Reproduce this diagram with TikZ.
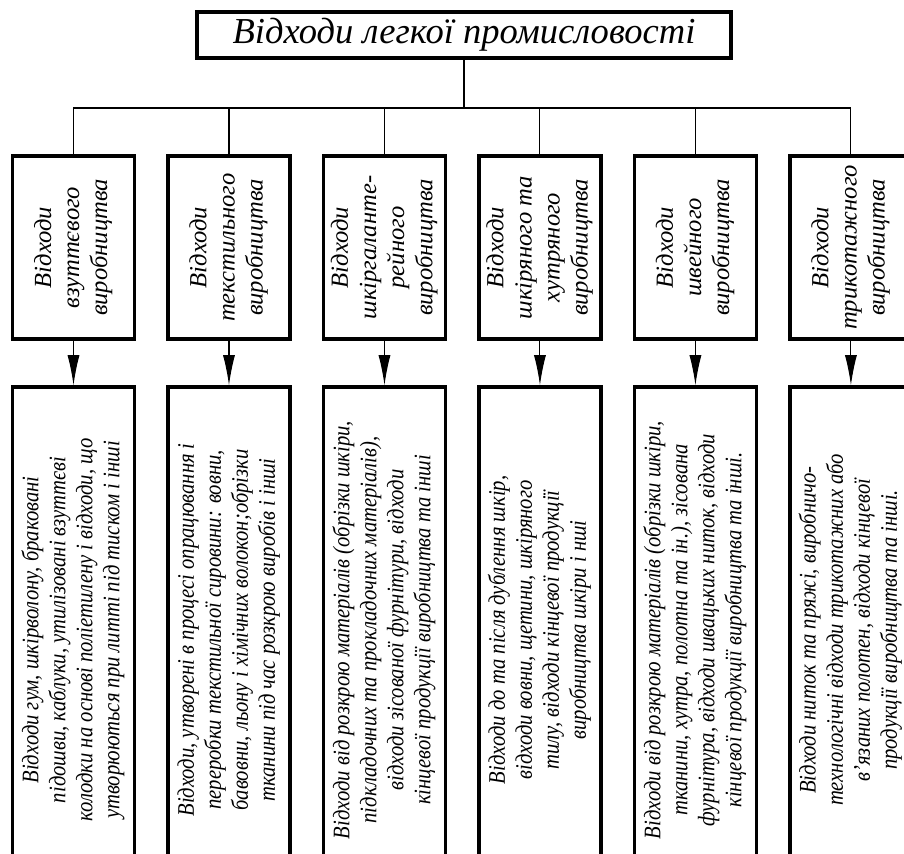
\documentclass[tikz,border=0pt]{standalone}
\usepackage{fontspec}
\setmainfont{Liberation Serif}
\newfontfamily\narrowserif[FakeStretch=0.87]{Liberation Serif}
\usepackage{graphicx}
\usepackage{tikz}
\usetikzlibrary{arrows.meta,positioning}

% text turned to read from bottom to top
\newcommand{\sidetext}[1]{\rotatebox{90}{\begin{tabular}{@{}c@{}}#1\end{tabular}}}

\begin{document}
\begin{tikzpicture}[
    x=0.02cm, y=-0.02cm,
    node distance=0.6cm,
    topbox/.style={rectangle, draw, line width=2pt, minimum width=10.68cm,
                   minimum height=0.92cm, inner sep=0pt,
                   font=\fontsize{20.8}{25}\selectfont\itshape},
    catbox/.style={rectangle, draw, line width=2pt, minimum width=2.44cm,
                   minimum height=3.66cm, inner sep=0pt,
                   font=\fontsize{14}{16}\selectfont\itshape},
    descbox/.style={rectangle, draw, line width=2pt, minimum width=2.44cm,
                    minimum height=9.72cm, inner sep=0pt,
                    font=\narrowserif\fontsize{13.5}{15.4}\selectfont\itshape},
    link/.style={line width=0.6pt},
    arrow/.style={-{Latex[length=0.6cm, width=0.24cm]}, line width=0.6pt}
]

\useasboundingbox (0,0) rectangle (904,854);
\clip (0,0) rectangle (904,854);

\node[topbox] (title) at (464,35) {Відходи легкої промисловості};

% kinds of production
\node[catbox] (shoe) at (73.5,247.5) {\sidetext{Відходи\\ взуттєвого\\ виробництва}};
\node[catbox, right=of shoe] (textile) {\sidetext{Відходи\\ текстильного\\ виробництва}};
\node[catbox, right=of textile] (haber) {\sidetext{Відходи\\ шкіргаланте-\\ рейного\\ виробництва}};
\node[catbox, right=of haber] (leather) {\sidetext{Відходи\\ шкіряного та\\ хутряного\\ виробництва}};
\node[catbox, right=of leather] (sewing) {\sidetext{Відходи\\ швейного\\ виробництва}};
\node[catbox, right=of sewing] (knit) {\sidetext{Відходи\\ трикотажного\\ виробництва}};

% what each one gives
\node[descbox, below=0.89cm of shoe] (shoeD) {\sidetext{Відходи гум, шкірволону, браковані\\ підошви, каблуки, утилізовані взуттєві\\ колодки на основі поліетилену і відходи, що\\ утворюються при литті під тиском і інші}};
\node[descbox, below=0.89cm of textile] (textileD) {\sidetext{Відходи, утворені в процесі опрацювання і\\ переробки текстильної сировини: вовни,\\ бавовни, льону і хімічних волокон;обрізки\\ тканини під час розкрою виробів і інші}};
\node[descbox, below=0.89cm of haber] (haberD) {\sidetext{Відходи від розкрою матеріалів (обрізки шкіри,\\ підкладочних та прокладочних матеріалів),\\ відходи зісованої фурнітури, відходи\\ кінцевої продукції виробництва та інші}};
\node[descbox, below=0.89cm of leather] (leatherD) {\sidetext{Відходи до та після дублення шкір,\\ відходи вовни, щетини, шкіряного\\ тилу, відходи кінцевої продукції\\ виробництва шкіри і нші}};
\node[descbox, below=0.89cm of sewing] (sewingD) {\sidetext{Відходи від розкрою матеріалів (обрізки шкіри,\\ тканини, хутра, полотна та ін.), зісована\\ фурнітура, відходи швацьких ниток, відходи\\ кінцевої продукції виробництва та інші.}};
\node[descbox, below=0.89cm of knit] (knitD) {\sidetext{Відходи ниток та пряжі, виробничо-\\ технологічні відходи трикотажних або\\ в’язаних полотен, відходи кінцевої\\ продукції виробництва та інші.}};

\coordinate (bus) at (464,108);

\draw[link] (title.south) -- (bus);
\draw[link] (shoe.north) -- (shoe.north |- bus) -- (knit.north |- bus) -- (knit.north);
\draw[link] (textile.north) -- (textile.north |- bus);
\draw[link] (haber.north) -- (haber.north |- bus);
\draw[link] (leather.north) -- (leather.north |- bus);
\draw[link] (sewing.north) -- (sewing.north |- bus);

\draw[arrow] (shoe) -- (shoeD);
\draw[arrow] (textile) -- (textileD);
\draw[arrow] (haber) -- (haberD);
\draw[arrow] (leather) -- (leatherD);
\draw[arrow] (sewing) -- (sewingD);
\draw[arrow] (knit) -- (knitD);

\end{tikzpicture}
\end{document}
